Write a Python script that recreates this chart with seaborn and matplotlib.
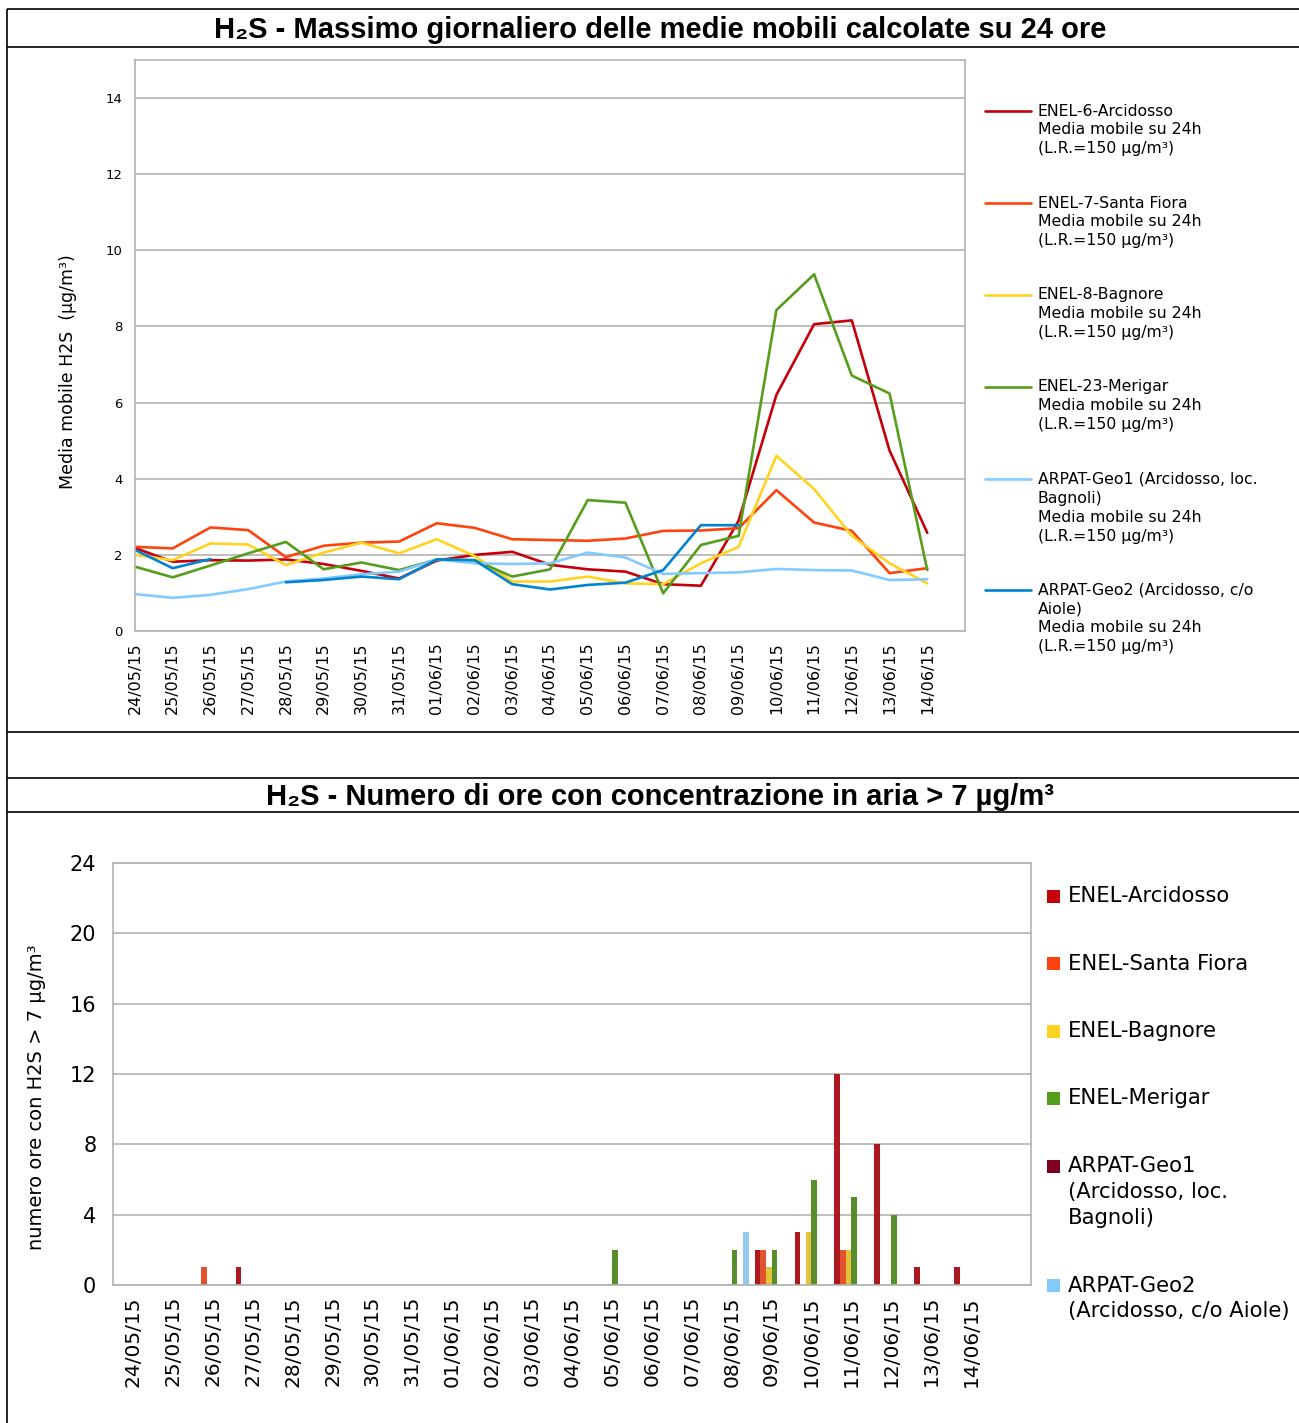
import numpy as np
import pandas as pd
import matplotlib
matplotlib.use('Agg')
import matplotlib.pyplot as plt
from matplotlib.patches import Rectangle
import seaborn as sns

nan = np.nan

dates = ['24/05/15', '25/05/15', '26/05/15', '27/05/15', '28/05/15', '29/05/15',
         '30/05/15', '31/05/15', '01/06/15', '02/06/15', '03/06/15', '04/06/15',
         '05/06/15', '06/06/15', '07/06/15', '08/06/15', '09/06/15', '10/06/15',
         '11/06/15', '12/06/15', '13/06/15', '14/06/15']

# top chart: daily max of the 24h moving average (ug/m3)
arcidosso_mm = [2.18, 1.82, 1.86, 1.85, 1.88, 1.76, 1.58, 1.38, 1.85, 2.00, 2.08,
                1.74, 1.62, 1.56, 1.23, 1.19, 2.90, 6.20, 8.06, 8.16, 4.74, 2.58]
santafiora_mm = [2.21, 2.17, 2.72, 2.65, 1.94, 2.24, 2.32, 2.35, 2.83, 2.71, 2.41,
                 2.39, 2.37, 2.43, 2.63, 2.64, 2.70, 3.70, 2.85, 2.63, 1.52, 1.65]
bagnore_mm = [2.00, 1.86, 2.30, 2.27, 1.73, 2.06, 2.32, 2.04, 2.41, 1.97, 1.30,
              1.30, 1.43, 1.25, 1.23, 1.78, 2.21, 4.60, 3.73, 2.50, 1.78, 1.25]
merigar_mm = [1.69, 1.41, 1.72, 2.04, 2.34, 1.62, 1.80, 1.60, 1.88, 1.86, 1.43,
              1.62, 3.44, 3.37, 0.99, 2.26, 2.50, 8.43, 9.37, 6.71, 6.24, 1.60]
geo1_mm = [0.97, 0.87, 0.95, 1.10, 1.30, 1.38, 1.49, 1.56, 1.88, 1.78, 1.76,
           1.78, 2.06, 1.93, 1.50, 1.52, 1.54, 1.63, 1.60, 1.59, 1.34, 1.36]
geo2_mm = [2.13, 1.65, 1.89, nan, 1.28, 1.34, 1.43, 1.36, 1.88, 1.86, 1.23,
           1.09, 1.21, 1.27, 1.60, 2.78, 2.78, nan, nan, nan, nan, nan]

# bottom chart: hours with concentration > 7 ug/m3
arcidosso_h = [0, 0, 0, 1, 0, 0, 0, 0, 0, 0, 0, 0, 0, 0, 0, 0, 2, 3, 12, 8, 1, 1]
santafiora_h = [0, 0, 1, 0, 0, 0, 0, 0, 0, 0, 0, 0, 0, 0, 0, 0, 2, 0, 2, 0, 0, 0]
bagnore_h = [0, 0, 0, 0, 0, 0, 0, 0, 0, 0, 0, 0, 0, 0, 0, 0, 1, 3, 2, 0, 0, 0]
merigar_h = [0, 0, 0, 0, 0, 0, 0, 0, 0, 0, 0, 0, 2, 0, 0, 2, 2, 6, 5, 4, 0, 0]
geo1_h = [0] * 22
geo2_h = [0, 0, 0, 0, 0, 0, 0, 0, 0, 0, 0, 0, 0, 0, 0, 3, 0, 0, 0, 0, 0, 0]

mm_series = ['ENEL-6-Arcidosso', 'ENEL-7-Santa Fiora', 'ENEL-8-Bagnore',
             'ENEL-23-Merigar', 'ARPAT-Geo1', 'ARPAT-Geo2']
mm_values = [arcidosso_mm, santafiora_mm, bagnore_mm, merigar_mm, geo1_mm, geo2_mm]
mm_colors = ['#c5000b', '#ff420e', '#ffd320', '#579d1c', '#83caff', '#0084d1']
mm_labels = [
    'ENEL-6-Arcidosso\nMedia mobile su 24h\n(L.R.=150 µg/m³)',
    'ENEL-7-Santa Fiora\nMedia mobile su 24h\n(L.R.=150 µg/m³)',
    'ENEL-8-Bagnore\nMedia mobile su 24h\n(L.R.=150 µg/m³)',
    'ENEL-23-Merigar\nMedia mobile su 24h\n(L.R.=150 µg/m³)',
    'ARPAT-Geo1 (Arcidosso, loc.\nBagnoli)\nMedia mobile su 24h\n(L.R.=150 µg/m³)',
    'ARPAT-Geo2 (Arcidosso, c/o\nAiole)\nMedia mobile su 24h\n(L.R.=150 µg/m³)',
]

h_series = ['ENEL-Arcidosso', 'ENEL-Santa Fiora', 'ENEL-Bagnore', 'ENEL-Merigar',
            'ARPAT-Geo1', 'ARPAT-Geo2']
h_values = [arcidosso_h, santafiora_h, bagnore_h, merigar_h, geo1_h, geo2_h]
h_colors = ['#c5000b', '#ff420e', '#ffd320', '#579d1c', '#7e0021', '#83caff']
h_labels = ['ENEL-Arcidosso', 'ENEL-Santa Fiora', 'ENEL-Bagnore', 'ENEL-Merigar',
            'ARPAT-Geo1\n(Arcidosso, loc.\nBagnoli)', 'ARPAT-Geo2\n(Arcidosso, c/o Aiole)']

# long tables
rows = []
for name, vals in zip(mm_series, mm_values):
    seg = 0
    for i, v in enumerate(vals):
        if np.isnan(v):
            seg += 1
            continue
        rows.append({'x': i, 'val': v, 'series': name, 'seg': seg})
df_mm = pd.DataFrame(rows)

rows = []
for name, vals in zip(h_series, h_values):
    for d, v in zip(dates, vals):
        rows.append({'date': d, 'hours': v, 'series': name})
df_h = pd.DataFrame(rows)

sns.set_theme(style='white')
plt.rcParams['font.family'] = ['DejaVu Sans']
plt.rcParams['text.color'] = 'black'
plt.rcParams['axes.labelcolor'] = 'black'
plt.rcParams['xtick.color'] = 'black'
plt.rcParams['ytick.color'] = 'black'

W, H = 1299, 1423
fig = plt.figure(figsize=(W / 100, H / 100), dpi=100)
grey = '#b3b3b3'


def px_axes(left, top, right, bottom):
    return fig.add_axes([left / W, 1 - bottom / H, (right - left) / W, (bottom - top) / H])


# ---- top chart
ax1 = px_axes(135, 60, 965, 631)
sns.lineplot(data=df_mm, x='x', y='val', hue='series', units='seg', estimator=None,
             hue_order=mm_series, palette=dict(zip(mm_series, mm_colors)),
             linewidth=1.9, legend=False, sort=False, ax=ax1)
ax1.set_xlim(0, 22)
ax1.set_ylim(0, 15)
ax1.set_xticks(range(len(dates)))
ax1.set_xticklabels(dates, rotation=90, fontsize=11.5)
ax1.set_yticks(range(0, 15, 2))
ax1.tick_params(axis='y', labelsize=9.5, length=6, width=1, color=grey, pad=3)
ax1.tick_params(axis='x', length=6, width=1, color=grey, pad=2)
ax1.grid(axis='y', color=grey, linewidth=1.2)
ax1.set_axisbelow(True)
for s in ax1.spines.values():
    s.set_color(grey)
    s.set_linewidth(1.2)
ax1.set_xlabel('')
ax1.set_ylabel('Media mobile H2S  (µg/m³)', fontsize=12.5)
ax1.yaxis.set_label_coords(-0.070, 0.455)

# ---- bottom chart
ax2 = px_axes(113, 863, 1031, 1285)
sns.barplot(data=df_h, x='date', y='hours', hue='series', hue_order=h_series,
            palette=dict(zip(h_series, h_colors)), width=0.85, linewidth=0,
            legend=False, ax=ax2)
ax2.set_xlim(-0.5, 22.5)
ax2.set_ylim(0, 24)
ax2.set_yticks(range(0, 25, 4))
ax2.set_xticks(range(len(dates)))
ax2.set_xticklabels(dates, rotation=90, fontsize=14.5)
ax2.set_xticks(np.arange(-0.5, 23, 1), minor=True)
ax2.tick_params(axis='x', which='major', length=0, pad=8)
ax2.tick_params(axis='x', which='minor', length=6, width=1, color=grey)
ax2.tick_params(axis='y', labelsize=15, length=0, pad=12)
ax2.grid(axis='y', color=grey, linewidth=1.2)
ax2.set_axisbelow(True)
for s in ax2.spines.values():
    s.set_color(grey)
    s.set_linewidth(1.2)
ax2.set_xlabel('')
ax2.set_ylabel('numero ore con H2S > 7 µg/m³', fontsize=14)
ax2.yaxis.set_label_coords(-0.073, 0.445)

# ---- overlay in pixel coordinates: frame, titles, legends
ov = fig.add_axes([0, 0, 1, 1], zorder=5)
ov.set_xlim(0, W)
ov.set_ylim(H, 0)
ov.axis('off')

ov.plot([7.5, 7.5], [9, H], color='black', lw=1.2, solid_capstyle='butt')
for yy in [9, 47, 732, 778, 812]:
    ov.plot([7.5, W], [yy, yy], color='black', lw=1.2, solid_capstyle='butt')

title_font = ['Liberation Sans Narrow', 'DejaVu Sans Condensed', 'Liberation Sans', 'DejaVu Sans']
ov.text(660, 30, 'H₂S - Massimo giornaliero delle medie mobili calcolate su 24 ore',
        ha='center', va='center', fontsize=21, fontweight='bold', family=title_font)
ov.text(660, 797, 'H₂S - Numero di ore con concentrazione in aria > 7 µg/m³',
        ha='center', va='center', fontsize=21, fontweight='bold', family=title_font)

# top legend
y = 111
for color, label in zip(mm_colors, mm_labels):
    ov.plot([985, 1031], [y, y], color=color, lw=1.9)
    lines = label.split('\n')
    for k, line in enumerate(lines):
        ov.text(1038, y + 19 * k, line, ha='left', va='center', fontsize=11.3)
    y += 19 * (len(lines) - 1) + 54

# bottom legend
y = 896
for color, label in zip(h_colors, h_labels):
    ov.add_patch(Rectangle((1047, y - 6.5), 13, 13, color=color, lw=0))
    lines = label.split('\n')
    for k, line in enumerate(lines):
        ov.text(1068, y + 26 * k, line, ha='left', va='center', fontsize=15.2)
    y += 26 * (len(lines) - 1) + 67.5

fig.savefig('out.png', dpi=100)
